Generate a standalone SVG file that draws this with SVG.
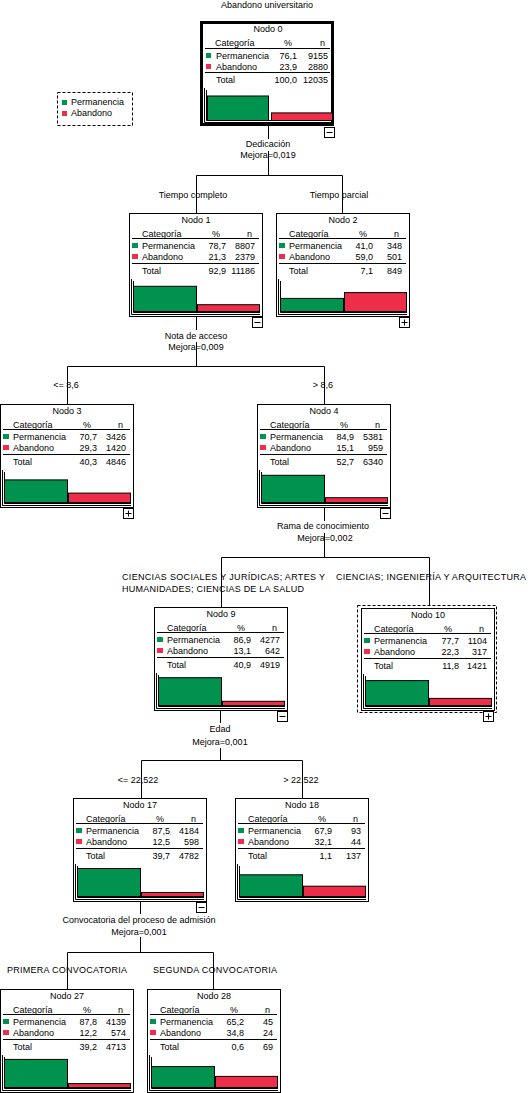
<svg xmlns="http://www.w3.org/2000/svg" width="528" height="1093" viewBox="0 0 528 1093">
<style>
text{font-family:"Liberation Sans",Arial,sans-serif;font-size:9px;fill:#000}
.c{text-anchor:middle}
.r{text-anchor:end}
.box{fill:#fff;stroke:#000;stroke-width:1}
.thick{fill:#fff;stroke:#000;stroke-width:3}
.ln{stroke:#000;stroke-width:1;fill:none}
.g{fill:#00924f;stroke:none}
.rd{fill:#ee2e48;stroke:none}
.gb{fill:#00924f;stroke:#000;stroke-width:1}
.rb{fill:#ee2e48;stroke:#000;stroke-width:1}
.ico{fill:#fff;stroke:#000;stroke-width:1}
.dash{fill:none;stroke:#000;stroke-width:1;stroke-dasharray:3,2}
</style>
<rect x="0" y="0" width="528" height="1093" fill="#fff"/>
<text class="c" x="267" y="8">Abandono universitario</text>

<g id="legend">
<rect class="dash" x="57.5" y="92.5" width="75" height="33"/>
<rect class="g" x="62" y="100" width="5" height="5"/>
<text x="71" y="105">Permanencia</text>
<rect class="rd" x="62" y="111" width="5" height="5"/>
<text x="71" y="116">Abandono</text>
</g>

<g id="connectors">
<path class="ln" d="M268.5 126V139M268.5 151V175.5M196.5 175.5H342.5M196.5 175.5V213M342.5 175.5V213"/>
<path class="ln" d="M196.5 317V330M196.5 342V366.5M67.5 366.5H324.5M67.5 366.5V404M324.5 366.5V404"/>
<path class="ln" d="M324.5 507V521M324.5 533V557.5M221.5 557.5H429.5M221.5 557.5V607M429.5 557.5V605"/>
<path class="ln" d="M220.5 711V723M220.5 748V760.5M141.5 760.5H302.5M141.5 760.5V798M302.5 760.5V798"/>
<path class="ln" d="M140.5 902V914M140.5 937V952.5M67.5 952.5H213.5M67.5 952.5V989M213.5 952.5V989"/>
</g>

<g id="labels">
<text class="c" x="268" y="147">Dedicación</text>
<text class="c" x="268" y="158">Mejora=0,019</text>
<text class="c" x="193" y="198">Tiempo completo</text>
<text class="c" x="339" y="198">Tiempo parcial</text>
<text class="c" x="196" y="339">Nota de acceso</text>
<text class="c" x="196" y="350">Mejora=0,009</text>
<text class="c" x="66" y="388">&lt;= 8,6</text>
<text class="c" x="323" y="388">&gt; 8,6</text>
<text class="c" x="323" y="529">Rama de conocimiento</text>
<text class="c" x="325" y="541">Mejora=0,002</text>
<text x="122" y="580" textLength="203" lengthAdjust="spacing">CIENCIAS SOCIALES Y JURÍDICAS; ARTES Y</text>
<text x="122" y="592" textLength="182" lengthAdjust="spacing">HUMANIDADES; CIENCIAS DE LA SALUD</text>
<text x="336" y="580" textLength="190" lengthAdjust="spacing">CIENCIAS; INGENIERÍA Y ARQUITECTURA</text>
<text class="c" x="220" y="732">Edad</text>
<text class="c" x="220" y="745">Mejora=0,001</text>
<text class="c" x="138" y="783">&lt;= 22,522</text>
<text class="c" x="301" y="783">&gt; 22,522</text>
<text class="c" x="139" y="923">Convocatoria del proceso de admisión</text>
<text class="c" x="139" y="935">Mejora=0,001</text>
<text x="7" y="973" textLength="120" lengthAdjust="spacing">PRIMERA CONVOCATORIA</text>
<text x="153" y="973" textLength="124" lengthAdjust="spacing">SEGUNDA CONVOCATORIA</text>
</g>

<g id="node0" transform="translate(200,22)">
<rect class="thick" x="1.5" y="0.5" width="131" height="102"/>
<text class="c" x="68" y="10">Nodo 0</text>
<text x="15" y="24">Categoría</text><text class="c" x="88" y="24">%</text><text class="r" x="125" y="24">n</text>
<line class="ln" x1="5" y1="26.5" x2="130" y2="26.5"/>
<rect class="g" x="6" y="31" width="5" height="5"/>
<text x="16" y="37">Permanencia</text><text class="r" x="97" y="37">76,1</text><text class="r" x="128" y="37">9155</text>
<rect class="rd" x="6" y="42" width="5" height="5"/>
<text x="16" y="48">Abandono</text><text class="r" x="97" y="48">23,9</text><text class="r" x="128" y="48">2880</text>
<line class="ln" x1="5" y1="50.5" x2="130" y2="50.5"/>
<text x="16" y="61">Total</text><text class="r" x="97" y="61">100,0</text><text class="r" x="128" y="61">12035</text>
<path class="ln" d="M4.5 66V100.5H132M6.5 68V98.5H132"/>
<rect class="gb" x="7.5" y="74" width="61" height="24.5"/>
<rect class="rb" x="71.5" y="90.9" width="61" height="7.6"/>
<rect class="ico" x="124.5" y="105.5" width="10" height="10"/>
<line class="ln" x1="126.5" y1="110.5" x2="132.5" y2="110.5"/>
</g>

<g id="node1" transform="translate(129,213)">
<rect class="box" x="0.5" y="0.5" width="133" height="103"/>
<text class="c" x="67" y="10">Nodo 1</text>
<text x="13" y="24">Categoría</text><text class="c" x="87" y="24">%</text><text class="r" x="123" y="24">n</text>
<line class="ln" x1="3" y1="25.5" x2="130" y2="25.5"/>
<rect class="g" x="3" y="30" width="6" height="5"/>
<text x="13" y="36">Permanencia</text><text class="r" x="97" y="36">78,7</text><text class="r" x="126" y="36">8807</text>
<rect class="rd" x="3" y="41" width="6" height="5"/>
<text x="13" y="47">Abandono</text><text class="r" x="97" y="47">21,3</text><text class="r" x="126" y="47">2379</text>
<line class="ln" x1="3" y1="50.5" x2="130" y2="50.5"/>
<text x="13" y="61">Total</text><text class="r" x="97" y="61">92,9</text><text class="r" x="126" y="61">11186</text>
<path class="ln" d="M2.5 66V101.5H131M4.5 68V99.5H131"/>
<rect class="gb" x="4.5" y="73.3" width="63" height="25.2"/>
<rect class="rb" x="68.5" y="91.7" width="62" height="6.8"/>
<rect class="ico" x="123.5" y="104.5" width="10" height="10"/>
<line class="ln" x1="125.5" y1="109.5" x2="131.5" y2="109.5"/>
</g>

<g id="node2" transform="translate(276,213)">
<rect class="box" x="0.5" y="0.5" width="133" height="103"/>
<text class="c" x="67" y="10">Nodo 2</text>
<text x="13" y="24">Categoría</text><text class="c" x="87" y="24">%</text><text class="r" x="123" y="24">n</text>
<line class="ln" x1="3" y1="25.5" x2="130" y2="25.5"/>
<rect class="g" x="3" y="30" width="6" height="5"/>
<text x="13" y="36">Permanencia</text><text class="r" x="97" y="36">41,0</text><text class="r" x="126" y="36">348</text>
<rect class="rd" x="3" y="41" width="6" height="5"/>
<text x="13" y="47">Abandono</text><text class="r" x="97" y="47">59,0</text><text class="r" x="126" y="47">501</text>
<line class="ln" x1="3" y1="50.5" x2="130" y2="50.5"/>
<text x="13" y="61">Total</text><text class="r" x="97" y="61">7,1</text><text class="r" x="126" y="61">849</text>
<path class="ln" d="M2.5 66V101.5H131M4.5 68V99.5H131"/>
<rect class="gb" x="4.5" y="85.4" width="63" height="13.1"/>
<rect class="rb" x="68.5" y="79.6" width="62" height="18.9"/>
<rect class="ico" x="123.5" y="104.5" width="10" height="10"/>
<path class="ln" d="M125.5 109.5H131.5M128.5 106.5V112.5"/>
</g>

<g id="node3" transform="translate(0,404)">
<rect class="box" x="0.5" y="0.5" width="133" height="103"/>
<text class="c" x="67" y="10">Nodo 3</text>
<text x="13" y="24">Categoría</text><text class="c" x="87" y="24">%</text><text class="r" x="123" y="24">n</text>
<line class="ln" x1="3" y1="25.5" x2="130" y2="25.5"/>
<rect class="g" x="3" y="30" width="6" height="5"/>
<text x="13" y="36">Permanencia</text><text class="r" x="97" y="36">70,7</text><text class="r" x="126" y="36">3426</text>
<rect class="rd" x="3" y="41" width="6" height="5"/>
<text x="13" y="47">Abandono</text><text class="r" x="97" y="47">29,3</text><text class="r" x="126" y="47">1420</text>
<line class="ln" x1="3" y1="50.5" x2="130" y2="50.5"/>
<text x="13" y="61">Total</text><text class="r" x="97" y="61">40,3</text><text class="r" x="126" y="61">4846</text>
<path class="ln" d="M2.5 66V101.5H131M4.5 68V99.5H131"/>
<rect class="gb" x="4.5" y="75.9" width="63" height="22.6"/>
<rect class="rb" x="68.5" y="89.1" width="62" height="9.4"/>
<rect class="ico" x="123.5" y="104.5" width="10" height="10"/>
<path class="ln" d="M125.5 109.5H131.5M128.5 106.5V112.5"/>
</g>

<g id="node4" transform="translate(257,404)">
<rect class="box" x="0.5" y="0.5" width="133" height="103"/>
<text class="c" x="67" y="10">Nodo 4</text>
<text x="13" y="24">Categoría</text><text class="c" x="87" y="24">%</text><text class="r" x="123" y="24">n</text>
<line class="ln" x1="3" y1="25.5" x2="130" y2="25.5"/>
<rect class="g" x="3" y="30" width="6" height="5"/>
<text x="13" y="36">Permanencia</text><text class="r" x="97" y="36">84,9</text><text class="r" x="126" y="36">5381</text>
<rect class="rd" x="3" y="41" width="6" height="5"/>
<text x="13" y="47">Abandono</text><text class="r" x="97" y="47">15,1</text><text class="r" x="126" y="47">959</text>
<line class="ln" x1="3" y1="50.5" x2="130" y2="50.5"/>
<text x="13" y="61">Total</text><text class="r" x="97" y="61">52,7</text><text class="r" x="126" y="61">6340</text>
<path class="ln" d="M2.5 66V101.5H131M4.5 68V99.5H131"/>
<rect class="gb" x="4.5" y="71.3" width="63" height="27.2"/>
<rect class="rb" x="68.5" y="93.7" width="62" height="4.8"/>
<rect class="ico" x="123.5" y="104.5" width="10" height="10"/>
<line class="ln" x1="125.5" y1="109.5" x2="131.5" y2="109.5"/>
</g>

<g id="node9" transform="translate(154,607)">
<rect class="box" x="0.5" y="0.5" width="133" height="103"/>
<text class="c" x="67" y="10">Nodo 9</text>
<text x="13" y="24">Categoría</text><text class="c" x="87" y="24">%</text><text class="r" x="123" y="24">n</text>
<line class="ln" x1="3" y1="25.5" x2="130" y2="25.5"/>
<rect class="g" x="3" y="30" width="6" height="5"/>
<text x="13" y="36">Permanencia</text><text class="r" x="97" y="36">86,9</text><text class="r" x="126" y="36">4277</text>
<rect class="rd" x="3" y="41" width="6" height="5"/>
<text x="13" y="47">Abandono</text><text class="r" x="97" y="47">13,1</text><text class="r" x="126" y="47">642</text>
<line class="ln" x1="3" y1="50.5" x2="130" y2="50.5"/>
<text x="13" y="61">Total</text><text class="r" x="97" y="61">40,9</text><text class="r" x="126" y="61">4919</text>
<path class="ln" d="M2.5 66V101.5H131M4.5 68V99.5H131"/>
<rect class="gb" x="4.5" y="70.7" width="63" height="27.8"/>
<rect class="rb" x="68.5" y="94.3" width="62" height="4.2"/>
<rect class="ico" x="123.5" y="104.5" width="10" height="10"/>
<line class="ln" x1="125.5" y1="109.5" x2="131.5" y2="109.5"/>
</g>

<g id="node10" transform="translate(361,608)">
<rect class="dash" x="-3.5" y="-2.5" width="139" height="107"/>
<rect class="box" x="0.5" y="0.5" width="133" height="102"/>
<text class="c" x="67" y="10">Nodo 10</text>
<text x="13" y="24">Categoría</text><text class="c" x="87" y="24">%</text><text class="r" x="123" y="24">n</text>
<line class="ln" x1="3" y1="25.5" x2="130" y2="25.5"/>
<rect class="g" x="3" y="30" width="6" height="5"/>
<text x="13" y="36">Permanencia</text><text class="r" x="98" y="36">77,7</text><text class="r" x="126" y="36">1104</text>
<rect class="rd" x="3" y="41" width="6" height="5"/>
<text x="13" y="47">Abandono</text><text class="r" x="98" y="47">22,3</text><text class="r" x="126" y="47">317</text>
<line class="ln" x1="3" y1="50.5" x2="130" y2="50.5"/>
<text x="13" y="61">Total</text><text class="r" x="98" y="61">11,8</text><text class="r" x="126" y="61">1421</text>
<path class="ln" d="M2.5 66V100.5H131M4.5 68V98.5H131"/>
<rect class="gb" x="4.5" y="72.6" width="63" height="24.9"/>
<rect class="rb" x="68.5" y="90.4" width="62" height="7.1"/>
<rect class="ico" x="122.5" y="103.5" width="10" height="10"/>
<path class="ln" d="M124.5 108.5H130.5M127.5 105.5V111.5"/>
</g>

<g id="node17" transform="translate(73,798)">
<rect class="box" x="0.5" y="0.5" width="133" height="103"/>
<text class="c" x="67" y="10">Nodo 17</text>
<text x="13" y="24">Categoría</text><text class="c" x="87" y="24">%</text><text class="r" x="123" y="24">n</text>
<line class="ln" x1="3" y1="25.5" x2="130" y2="25.5"/>
<rect class="g" x="3" y="30" width="6" height="5"/>
<text x="13" y="36">Permanencia</text><text class="r" x="97" y="36">87,5</text><text class="r" x="126" y="36">4184</text>
<rect class="rd" x="3" y="41" width="6" height="5"/>
<text x="13" y="47">Abandono</text><text class="r" x="97" y="47">12,5</text><text class="r" x="126" y="47">598</text>
<line class="ln" x1="3" y1="50.5" x2="130" y2="50.5"/>
<text x="13" y="61">Total</text><text class="r" x="97" y="61">39,7</text><text class="r" x="126" y="61">4782</text>
<path class="ln" d="M2.5 66V101.5H131M4.5 68V99.5H131"/>
<rect class="gb" x="4.5" y="70.5" width="63" height="28"/>
<rect class="rb" x="68.5" y="94.5" width="62" height="4"/>
<rect class="ico" x="123.5" y="104.5" width="10" height="10"/>
<line class="ln" x1="125.5" y1="109.5" x2="131.5" y2="109.5"/>
</g>

<g id="node18" transform="translate(235,798)">
<rect class="box" x="0.5" y="0.5" width="133" height="103"/>
<text class="c" x="67" y="10">Nodo 18</text>
<text x="13" y="24">Categoría</text><text class="c" x="87" y="24">%</text><text class="r" x="123" y="24">n</text>
<line class="ln" x1="3" y1="25.5" x2="130" y2="25.5"/>
<rect class="g" x="3" y="30" width="6" height="5"/>
<text x="13" y="36">Permanencia</text><text class="r" x="97" y="36">67,9</text><text class="r" x="126" y="36">93</text>
<rect class="rd" x="3" y="41" width="6" height="5"/>
<text x="13" y="47">Abandono</text><text class="r" x="97" y="47">32,1</text><text class="r" x="126" y="47">44</text>
<line class="ln" x1="3" y1="50.5" x2="130" y2="50.5"/>
<text x="13" y="61">Total</text><text class="r" x="97" y="61">1,1</text><text class="r" x="126" y="61">137</text>
<path class="ln" d="M2.5 66V101.5H131M4.5 68V99.5H131"/>
<rect class="gb" x="4.5" y="76.8" width="63" height="21.7"/>
<rect class="rb" x="68.5" y="88.2" width="62" height="10.3"/>
</g>

<g id="node27" transform="translate(0,989)">
<rect class="box" x="0.5" y="0.5" width="133" height="103"/>
<text class="c" x="67" y="10">Nodo 27</text>
<text x="13" y="24">Categoría</text><text class="c" x="87" y="24">%</text><text class="r" x="123" y="24">n</text>
<line class="ln" x1="3" y1="25.5" x2="130" y2="25.5"/>
<rect class="g" x="3" y="30" width="6" height="5"/>
<text x="13" y="36">Permanencia</text><text class="r" x="97" y="36">87,8</text><text class="r" x="126" y="36">4139</text>
<rect class="rd" x="3" y="41" width="6" height="5"/>
<text x="13" y="47">Abandono</text><text class="r" x="97" y="47">12,2</text><text class="r" x="126" y="47">574</text>
<line class="ln" x1="3" y1="50.5" x2="130" y2="50.5"/>
<text x="13" y="61">Total</text><text class="r" x="97" y="61">39,2</text><text class="r" x="126" y="61">4713</text>
<path class="ln" d="M2.5 66V101.5H131M4.5 68V99.5H131"/>
<rect class="gb" x="4.5" y="70.4" width="63" height="28.1"/>
<rect class="rb" x="68.5" y="94.6" width="62" height="3.9"/>
</g>

<g id="node28" transform="translate(147,989)">
<rect class="box" x="0.5" y="0.5" width="133" height="103"/>
<text class="c" x="67" y="10">Nodo 28</text>
<text x="13" y="24">Categoría</text><text class="c" x="87" y="24">%</text><text class="r" x="123" y="24">n</text>
<line class="ln" x1="3" y1="25.5" x2="130" y2="25.5"/>
<rect class="g" x="3" y="30" width="6" height="5"/>
<text x="13" y="36">Permanencia</text><text class="r" x="97" y="36">65,2</text><text class="r" x="126" y="36">45</text>
<rect class="rd" x="3" y="41" width="6" height="5"/>
<text x="13" y="47">Abandono</text><text class="r" x="97" y="47">34,8</text><text class="r" x="126" y="47">24</text>
<line class="ln" x1="3" y1="50.5" x2="130" y2="50.5"/>
<text x="13" y="61">Total</text><text class="r" x="97" y="61">0,6</text><text class="r" x="126" y="61">69</text>
<path class="ln" d="M2.5 66V101.5H131M4.5 68V99.5H131"/>
<rect class="gb" x="4.5" y="77.6" width="63" height="20.9"/>
<rect class="rb" x="68.5" y="87.4" width="62" height="11.1"/>
</g>
</svg>
